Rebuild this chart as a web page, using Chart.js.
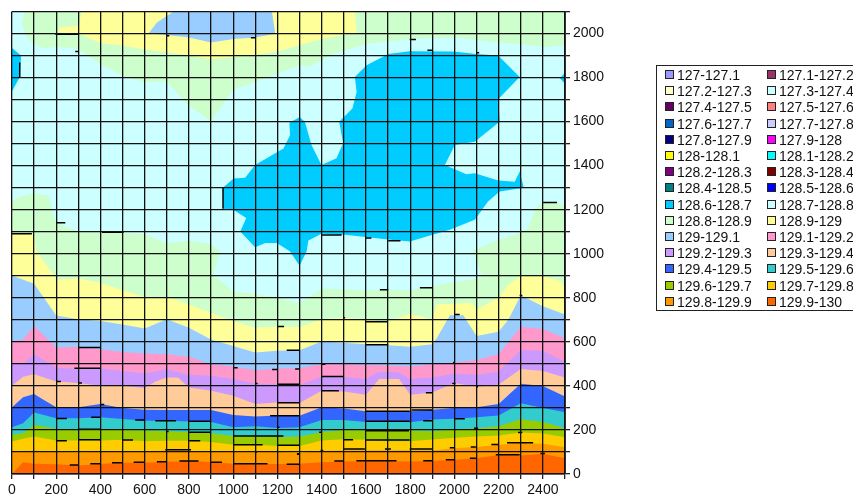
<!DOCTYPE html>
<html><head><meta charset="utf-8">
<style>
html,body{margin:0;padding:0;background:#fff;overflow:hidden}
#wrap{position:relative;width:853px;height:503px}
#legend{position:absolute;left:656px;top:65px;width:200px;height:244px;border:1px solid #222;box-sizing:content-box;font:14px "Liberation Sans",Arial,sans-serif;color:#111}
.it{position:absolute;white-space:nowrap;line-height:16px;height:16px}
.sw{position:absolute;top:3px;left:0;width:7px;height:7px;border:1px solid #222}
.tx{position:absolute;left:12px;top:0}
</style>
<script src="https://cdn.jsdelivr.net/npm/chart.js@4"></script>
</head><body><div id="wrap"><canvas id="c" width="853" height="503"></canvas><div id="legend"></div></div>
<script>
const legendLabels=["127-127.1","127.1-127.2","127.2-127.3","127.3-127.4","127.4-127.5","127.5-127.6","127.6-127.7","127.7-127.8","127.8-127.9","127.9-128","128-128.1","128.1-128.2","128.2-128.3","128.3-128.4","128.4-128.5","128.5-128.6","128.6-128.7","128.7-128.8","128.8-128.9","128.9-129","129-129.1","129.1-129.2","129.2-129.3","129.3-129.4","129.4-129.5","129.5-129.6","129.6-129.7","129.7-129.8","129.8-129.9","129.9-130"];
const legendColors=["#9999FF","#993366","#FFFFCC","#CCFFFF","#660066","#FF8080","#0066CC","#CCCCFF","#000080","#FF00FF","#FFFF00","#00FFFF","#800080","#800000","#008080","#0000FF","#00CCFF","#CCFFFF","#CCFFCC","#FFFF99","#99CCFF","#FF99CC","#CC99FF","#FFCC99","#3366FF","#33CCCC","#99CC00","#FFCC00","#FF9900","#FF6600"];
const xTicks=[0,100,200,300,400,500,600,700,800,900,1000,1100,1200,1300,1400,1500,1600,1700,1800,1900,2000,2100,2200,2300,2400,2500];
const yTicks=[0,100,200,300,400,500,600,700,800,900,1000,1100,1200,1300,1400,1500,1600,1700,1800,1900,2000,2100];

// contour outlines in data units: [x, depth]
const plane=[[0,0],[2500,0],[2500,2100],[0,2100]];
const topGreen=[[56,2100],[45,2050],[60,1991],[98,1952],[143,1933],[203,1938],[294,1930],[369,1884],[399,1861],[505,1806],[595,1779],[700,1782],[798,1673],[899,1603],[1001,1746],[1101,1779],[1200,1817],[1300,1855],[1347,1850],[1453,1907],[1600,1952],[1800,1975],[1995,1982],[2200,1959],[2300,1952],[2405,1938],[2500,1945],[2500,2100]];
const topYellow=[[316,2100],[301,2035],[218,2027],[203,2005],[301,1998],[399,1957],[500,1945],[600,1927],[700,1915],[801,1900],[900,1882],[1001,1893],[1101,1903],[1200,1918],[1300,1946],[1400,1975],[1558,2002],[1550,2100]];
const topBlue=[[730,2100],[655,2050],[617,2000],[700,1993],[800,1982],[900,1959],[1001,1975],[1101,1982],[1190,1998],[1175,2100]];
const blobLeft=[[0,1934],[41,1900],[35,1801],[0,1737]];
const blobRight=[[2500,1821],[2477,1797],[2500,1771]];
const blobMain=[[1254,1595],[1295,1617],[1300,1621],[1324,1599],[1354,1493],[1399,1403],[1467,1433],[1497,1501],[1479,1599],[1539,1659],[1558,1734],[1550,1802],[1603,1855],[1701,1907],[1798,1919],[1994,1918],[2100,1907],[2198,1900],[2295,1802],[2198,1701],[2205,1599],[2092,1508],[2002,1493],[1957,1403],[2054,1361],[2092,1365],[2198,1332],[2273,1327],[2295,1373],[2314,1300],[2205,1282],[2152,1237],[2092,1154],[1979,1109],[1798,1056],[1701,1064],[1505,1086],[1399,1091],[1340,1060],[1332,1011],[1300,945],[1256,1011],[1197,1049],[1145,1049],[1099,1029],[1032,1101],[1059,1162],[1002,1199],[956,1204],[953,1300],[1002,1342],[1054,1345],[1099,1403],[1227,1478],[1257,1538]];
const lowGreen=[[0,1241],[45,1262],[100,1274],[165,1263],[188,1177],[200,1139],[300,1101],[400,1098],[500,1094],[600,1090],[700,1048],[800,1059],[900,1044],[940,1011],[910,906],[1000,827],[1100,818],[1200,800],[1300,775],[1400,841],[1500,839],[1600,833],[1700,838],[1800,833],[1900,853],[2000,871],[2080,883],[2125,898],[2090,996],[2080,1011],[2190,1060],[2300,1094],[2332,1116],[2367,1207],[2405,1232],[2465,1232],[2500,1214]];
const lowYellow=[[0,1092],[100,1092],[110,1011],[188,905],[200,882],[300,887],[400,867],[500,834],[600,803],[700,803],[800,770],[900,732],[1000,694],[1100,664],[1200,670],[1300,667],[1400,702],[1500,709],[1600,702],[1700,691],[1800,727],[1900,702],[1920,770],[2000,773],[2080,777],[2100,747],[2200,800],[2245,860],[2300,898],[2400,898],[2480,875],[2500,842]];
const lowBlue=[[0,901],[100,864],[200,720],[300,702],[400,694],[500,679],[600,661],[700,702],[800,664],[900,611],[1000,581],[1100,551],[1200,559],[1300,562],[1400,601],[1500,596],[1600,589],[1700,584],[1800,578],[1900,589],[1920,616],[1980,721],[2040,721],[2100,626],[2200,646],[2245,702],[2300,812],[2400,762],[2500,724]];
const lowPink=[[0,599],[50,611],[100,672],[200,574],[300,578],[400,566],[500,554],[600,547],[700,544],[800,532],[900,498],[1000,488],[1100,471],[1200,479],[1300,480],[1400,498],[1500,498],[1600,495],[1700,492],[1800,488],[1900,498],[2000,506],[2100,518],[2200,544],[2300,669],[2400,658],[2500,616]];
const lowPurple=[[0,498],[50,501],[100,544],[200,483],[300,476],[400,479],[500,468],[600,456],[700,476],[800,450],[900,446],[1000,431],[1100,411],[1200,408],[1300,404],[1400,441],[1500,441],[1600,431],[1650,461],[1700,464],[1750,461],[1800,431],[1900,438],[2000,456],[2100,450],[2200,465],[2300,563],[2400,559],[2500,509]];
const lowPeach=[[0,401],[50,441],[100,453],[200,420],[300,413],[400,401],[500,401],[600,390],[650,420],[700,438],[750,438],[800,393],[900,378],[1000,355],[1100,318],[1200,325],[1300,322],[1400,378],[1500,375],[1600,360],[1660,431],[1750,431],[1800,360],[1900,370],[2000,413],[2100,396],[2200,405],[2300,477],[2400,468],[2500,438]];
const lowRoyal=[[0,303],[50,348],[100,363],[150,333],[200,303],[300,303],[400,318],[500,300],[600,292],[700,291],[800,291],[900,291],[1000,268],[1100,261],[1200,265],[1300,264],[1400,303],[1500,297],[1600,285],[1700,285],[1800,285],[1900,292],[2000,300],[2100,303],[2200,318],[2300,410],[2400,399],[2500,352]];
const lowTeal=[[0,212],[50,230],[100,279],[200,253],[300,253],[400,258],[500,250],[600,242],[700,242],[800,238],[900,236],[1000,212],[1100,217],[1200,209],[1300,212],[1400,245],[1500,245],[1600,236],[1700,239],[1800,235],[1900,247],[2000,251],[2100,258],[2200,265],[2300,321],[2400,300],[2500,280]];
const lowOlive=[[0,178],[50,185],[100,223],[200,205],[300,197],[400,205],[500,200],[600,197],[700,194],[800,190],[900,185],[1000,172],[1100,172],[1200,167],[1300,170],[1400,190],[1500,200],[1600,197],[1700,197],[1800,197],[1900,194],[2000,202],[2100,208],[2200,217],[2300,248],[2400,236],[2500,208]];
const lowGold=[[0,148],[50,160],[100,170],[200,152],[300,152],[400,152],[500,155],[600,149],[700,151],[800,151],[900,145],[1000,133],[1100,133],[1200,127],[1300,127],[1400,152],[1500,158],[1600,155],[1700,149],[1800,149],[1900,157],[2000,164],[2100,170],[2200,175],[2300,188],[2400,184],[2500,167]];
const lowOrange=[[0,101],[50,102],[100,107],[200,101],[300,98],[400,101],[500,102],[600,102],[700,107],[800,104],[900,102],[1000,101],[1100,99],[1200,101],[1300,95],[1400,104],[1500,107],[1600,107],[1700,107],[1800,107],[1900,107],[2000,117],[2100,123],[2200,133],[2300,140],[2400,137],[2500,122]];
const lowRed=[[0,0],[50,53],[100,47],[200,44],[300,39],[400,45],[500,51],[600,51],[700,56],[800,59],[900,54],[1000,47],[1100,47],[1200,45],[1300,47],[1400,53],[1500,57],[1600,59],[1700,59],[1800,57],[1900,59],[2000,65],[2100,72],[2200,86],[2300,84],[2400,92],[2500,72]];

// short dark contour stubs seen along the grid: [x1, x2, depth] and [x, depth1, depth2]
const stubsH=[[196,301,1996],[286,301,1918],[700,711,1990],[1080,1099,1980],[407,505,1097],[203,241,1141],[0,90,1091],[1798,1826,1973],[1878,1901,1924],[2100,2112,1912],[2401,2464,1233],[1399,1490,1085],[1600,1625,1071],[1701,1756,1059],[1200,1230,670],[1242,1300,562],[301,399,574],[282,399,480],[203,221,420],[301,316,413],[1001,1020,482],[1176,1200,474],[1280,1300,477],[1099,1110,411],[1200,1300,407],[1200,1300,324],[399,417,315],[1167,1300,264],[203,248,252],[358,399,258],[557,600,245],[648,741,242],[801,900,240],[1200,1209,212],[301,399,203],[700,708,193],[801,900,190],[1001,1227,172],[203,248,151],[301,399,155],[500,547,154],[801,851,151],[1001,1133,133],[1200,1300,131],[693,809,110],[1099,1107,99],[1288,1300,92],[261,301,41],[354,399,47],[452,500,51],[550,600,53],[655,700,56],[757,843,59],[900,949,53],[1001,1155,47],[1242,1300,44],[1663,1701,836],[1844,1899,845],[2295,2307,810],[1999,2024,724],[1600,1696,691],[1500,1506,709],[1600,1701,587],[1994,2002,506],[1399,1417,498],[1399,1500,443],[1399,1478,378],[1871,1899,369],[1990,2005,411],[2098,2107,396],[1600,1798,285],[1806,1899,291],[1859,1899,242],[1999,2047,251],[2089,2107,208],[1600,1798,239],[1600,1795,196],[1389,1400,190],[1500,1542,155],[1600,1798,154],[1500,1595,113],[1686,1713,114],[1798,1899,113],[1979,1999,119],[2074,2097,123],[2167,2198,134],[2238,2356,142],[2288,2307,188],[1395,1407,107],[1457,1500,59],[1557,1738,60],[1859,1899,60],[1961,1999,65],[2070,2097,72],[2187,2295,87],[2389,2409,93],[1289,1300,90]];
const stubsV=[[35,1801,1868],[954,1204,1300]];

const closed=p=>p; // upper bands are already closed outlines
const down=p=>[[p[0][0],0],...p,[p[p.length-1][0],0]]; // lower bands close on the x axis
const col=l=>legendColors[legendLabels.indexOf(l)];
const layers=[
 ["128.7-128.8",closed(plane)],
 ["128.8-128.9",closed(topGreen)],
 ["128.9-129",closed(topYellow)],
 ["129-129.1",closed(topBlue)],
 ["128.6-128.7",closed(blobLeft)],
 ["128.6-128.7",closed(blobRight)],
 ["128.6-128.7",closed(blobMain)],
 ["128.8-128.9",down(lowGreen)],
 ["128.9-129",down(lowYellow)],
 ["129-129.1",down(lowBlue)],
 ["129.1-129.2",down(lowPink)],
 ["129.2-129.3",down(lowPurple)],
 ["129.3-129.4",down(lowPeach)],
 ["129.4-129.5",down(lowRoyal)],
 ["129.5-129.6",down(lowTeal)],
 ["129.6-129.7",down(lowOlive)],
 ["129.7-129.8",down(lowGold)],
 ["129.8-129.9",down(lowOrange)],
 ["129.9-130",down(lowRed)]
];
const datasets=layers.map(([label,pts],i)=>({
 label,data:pts.map(([x,y])=>({x,y})),
 backgroundColor:col(label),borderColor:col(label),borderWidth:0,
 pointRadius:0,pointHoverRadius:0,tension:0,fill:'shape',order:layers.length-i
}));
const gap={x:NaN,y:NaN};
datasets.push({label:'stubs',
 data:[...stubsH.flatMap(([a,b,y])=>[{x:a,y},{x:b,y},gap]),...stubsV.flatMap(([x,a,b])=>[{x,y:a},{x,y:b},gap])],
 borderColor:'#000',backgroundColor:'#000',borderWidth:1.5,pointRadius:0,pointHoverRadius:0,tension:0,fill:false,spanGaps:false,order:0});
const font={family:'"Liberation Sans",Arial,sans-serif',size:14};
new Chart(document.getElementById('c'),{
 type:'line',data:{datasets},
 options:{
  responsive:false,animation:false,events:[],
  layout:{autoPadding:false,padding:{left:12,top:9,right:0,bottom:0}},
  plugins:{legend:{display:false},tooltip:{enabled:false},title:{display:false}},
  scales:{
   x:{type:'linear',min:0,max:2500,
    afterBuildTicks:s=>{s.ticks=xTicks.map(v=>({value:v}))},
    afterFit:s=>{s.height=29},
    grid:{color:'#111',lineWidth:1.3,z:1,tickLength:5,tickColor:'#222'},
    border:{color:'#000',width:1.5,z:1},
    ticks:{color:'#111',font,padding:3,maxRotation:0,autoSkip:false,callback:v=>v%200===0?String(v):''}},
   y:{type:'linear',position:'right',min:0,max:2100,
    afterBuildTicks:s=>{s.ticks=yTicks.map(v=>({value:v}))},
    afterFit:s=>{s.width=288},
    grid:{color:'#111',lineWidth:1.3,z:1,tickLength:5,tickColor:'#222'},
    border:{color:'#333',width:1,z:1},
    ticks:{color:'#111',font,padding:3,autoSkip:false,callback:v=>v%200===0?String(v):''}}
  }
 }
});
const lg=document.getElementById('legend');
legendLabels.forEach((t,i)=>{
 const d=document.createElement('div');d.className='it';
 d.style.left=(i%2?110:8)+'px';
 d.style.top=(1+Math.floor(i/2)*16.2)+'px';
 const s=document.createElement('span');s.className='sw';s.style.background=legendColors[i];
 const x=document.createElement('span');x.className='tx';x.textContent=t;
 d.append(s,x);lg.append(d);
});
</script></body></html>
